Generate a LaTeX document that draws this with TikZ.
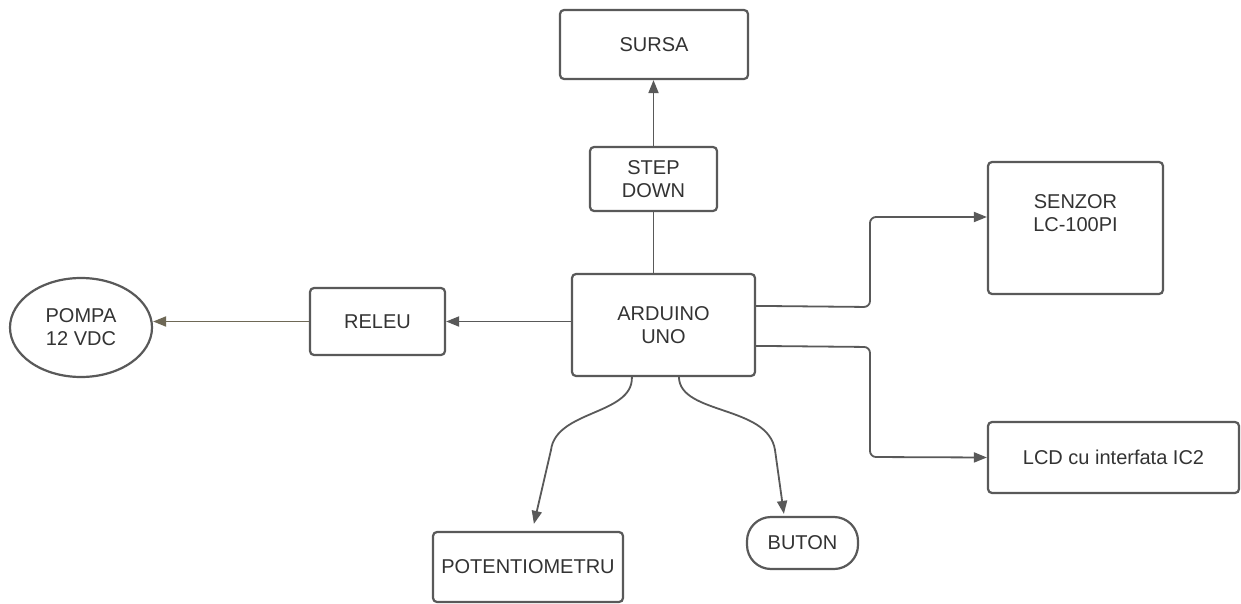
\documentclass[tikz,border=0pt]{standalone}
\usepackage{fontspec}
\setmainfont{Liberation Sans}
\usetikzlibrary{arrows.meta,shapes.geometric,calc}
\definecolor{ln}{HTML}{595959}
\definecolor{tx}{HTML}{333333}
\definecolor{olive}{HTML}{6E6856}
\begin{document}
\begin{tikzpicture}[x=1pt,y=-1pt,
  font=\fontsize{20}{23}\selectfont, text=tx,
  box/.style={draw=ln, line width=2.2pt, rounded corners=4pt, fill=white, align=center, inner sep=0pt},
  txt/.style={align=center, inner sep=0pt},
  conn/.style={draw=ln, line width=1.8pt, -{Triangle[length=13pt,width=10pt]}},
  plain/.style={draw=ln, line width=1.8pt}]
\useasboundingbox (0,0) rectangle (1241,604);
\fill[white] (0,0) rectangle (1241,604);

\node[box, minimum width=188, minimum height=69] (sursa) at (654,44.5) {SURSA};
\node[box, minimum width=127, minimum height=64] (step) at (653.5,179) {STEP\\DOWN};
\node[box, minimum width=183, minimum height=102] (ard) at (663.5,325) {ARDUINO\\UNO};
\node[box, minimum width=135, minimum height=67] (releu) at (377.5,321.5) {RELEU};
\node[draw=ln, line width=2.2pt, ellipse, minimum width=142, minimum height=99, inner sep=0pt, align=center] (pompa) at (81,327.5) {POMPA\\12 VDC};
\node[box, minimum width=175, minimum height=132] (senzor) at (1075.5,228) {};
\node[txt] (senzortxt) at (1075.5,213) {SENZOR\\LC-100PI};
\node[box, minimum width=251, minimum height=71] (lcd) at (1113.5,457.5) {LCD cu interfata IC2};
\node[box, minimum width=190, minimum height=70] (pot) at (528,567) {POTENTIOMETRU};
\node[box, rounded corners=24pt, minimum width=111, minimum height=52] (buton) at (802.5,543) {BUTON};

% connectors
\draw[plain] (ard.north -| step.south) -- (step.south);
\draw[conn] (step.north) -- (step.north |- sursa.south);
\draw[conn] (ard.west |- releu.east) -- (releu.east);
\draw[conn, draw=olive, -{Triangle[length=13pt,width=10pt,fill=olive]}] (releu.west) -- (releu.west -| pompa.east);
\draw[conn, rounded corners=6pt] ($(ard.north east)+(0,33)$) -- (870,307) -- (870,217) -- (senzor.west |- 0,217);
\draw[conn, rounded corners=6pt] ($(ard.north east)+(0,73)$) -- (870,347) -- (870,457) -- (lcd.west);
\draw[conn] ($(ard.south west)+(61,0)$) .. controls (633,415) and (556,410) .. (551,450) -- ($(pot.north west)+(102,-7)$);
\draw[conn] ($(ard.south west)+(108,0)$) .. controls (680,415) and (768,405) .. (775,450) -- ($(buton.north west)+(38,-2)$);
\end{tikzpicture}
\end{document}
